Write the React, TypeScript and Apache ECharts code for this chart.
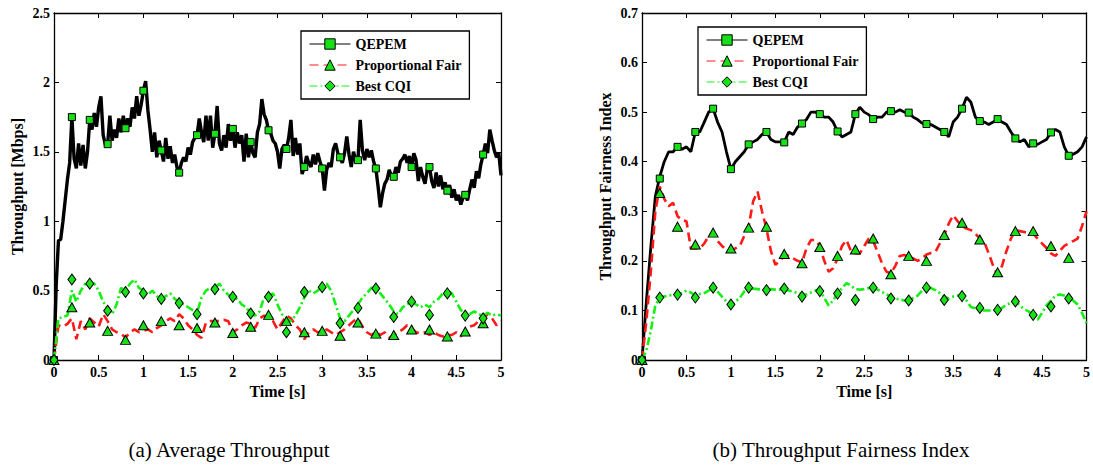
import React, { useEffect, useRef } from "react";
import * as echarts from "echarts";

// ---------- data ----------
const markTimes = [0, 0.2, 0.4, 0.6, 0.8, 1, 1.2, 1.4, 1.6, 1.8, 2, 2.2, 2.4, 2.6, 2.8, 3, 3.2, 3.4, 3.6, 3.8, 4, 4.2, 4.4, 4.6, 4.8];
const legendNames = ["QEPEM", "Proportional Fair", "Best CQI"];

// (a) Average Throughput [Mbps]; QEPEM sampled every 0.025 s, others every 0.05 s
const thrQepem = [
  0, 0.55, 0.86, 0.87, 1.0, 1.15, 1.3, 1.42,
  1.75, 1.45, 1.38, 1.56, 1.4, 1.55, 1.38, 1.5,
  1.73, 1.66, 1.78, 1.68, 1.82, 1.9, 1.62, 1.55,
  1.555, 1.76, 1.58, 1.66, 1.6, 1.74, 1.64, 1.76,
  1.67, 1.74, 1.68, 1.82, 1.74, 1.9, 1.76, 1.84,
  1.94, 2.01, 1.8, 1.66, 1.5, 1.64, 1.46, 1.58,
  1.51, 1.43, 1.6, 1.45, 1.54, 1.42, 1.48, 1.39,
  1.35, 1.42, 1.46, 1.43, 1.53, 1.48, 1.57, 1.6,
  1.62, 1.74, 1.64, 1.57, 1.76, 1.58, 1.76, 1.53,
  1.63, 1.83, 1.56, 1.51, 1.62, 1.53, 1.7, 1.58,
  1.665, 1.53, 1.64, 1.56, 1.62, 1.43, 1.63, 1.46,
  1.57, 1.49, 1.46, 1.64, 1.7, 1.88, 1.77, 1.73,
  1.655, 1.63, 1.58, 1.56, 1.5, 1.38, 1.52, 1.55,
  1.52, 1.6, 1.73, 1.47, 1.6, 1.48, 1.56, 1.34,
  1.39, 1.47, 1.42, 1.39, 1.48, 1.41, 1.49, 1.43,
  1.38, 1.22, 1.37, 1.42, 1.39, 1.52, 1.56, 1.49,
  1.46, 1.42, 1.49, 1.61, 1.48, 1.39, 1.5, 1.44,
  1.44, 1.73, 1.51, 1.44, 1.52, 1.46, 1.51, 1.43,
  1.38, 1.25, 1.1, 1.2, 1.27, 1.3, 1.37, 1.32,
  1.32, 1.39, 1.35, 1.43, 1.45, 1.48, 1.42, 1.47,
  1.39, 1.49, 1.44, 1.29, 1.39, 1.32, 1.27, 1.37,
  1.39, 1.29, 1.24, 1.35, 1.25, 1.33, 1.23, 1.28,
  1.22, 1.26, 1.17, 1.23, 1.15, 1.19, 1.12, 1.17,
  1.19, 1.15, 1.23, 1.3, 1.24, 1.36, 1.31, 1.41,
  1.48, 1.56, 1.49, 1.66, 1.58, 1.51, 1.46, 1.49,
  1.33,
];
const thrPf = [
  0, 0.25, 0.24, 0.26,
  0.3, 0.15, 0.28, 0.22,
  0.3, 0.27, 0.24, 0.33,
  0.28, 0.22, 0.2, 0.19,
  0.16, 0.2, 0.22, 0.2,
  0.21, 0.22, 0.2, 0.23,
  0.25, 0.28, 0.3, 0.28,
  0.33, 0.3, 0.25, 0.22,
  0.18, 0.16, 0.27, 0.28,
  0.28, 0.28, 0.29, 0.28,
  0.2, 0.22, 0.25, 0.27,
  0.26, 0.23, 0.3, 0.32,
  0.3, 0.28, 0.22, 0.27,
  0.32, 0.3, 0.25, 0.22,
  0.15, 0.2, 0.22, 0.2,
  0.2, 0.22, 0.2, 0.18,
  0.2, 0.22, 0.25, 0.28,
  0.3, 0.24, 0.2, 0.18,
  0.2, 0.18, 0.2, 0.16,
  0.18, 0.2, 0.22, 0.25,
  0.23, 0.2, 0.19, 0.2,
  0.18, 0.2, 0.18, 0.17,
  0.18, 0.18, 0.2, 0.17,
  0.2, 0.24, 0.25, 0.28,
  0.3, 0.33, 0.3, 0.25,
  0.28,
];
const thrCqi = [
  0, 0.3, 0.31, 0.32,
  0.5, 0.42, 0.5, 0.55,
  0.56, 0.55, 0.5, 0.42,
  0.37, 0.33, 0.4, 0.52,
  0.5, 0.55, 0.58, 0.52,
  0.5, 0.47, 0.5, 0.46,
  0.44, 0.46, 0.48, 0.44,
  0.42, 0.4, 0.38, 0.36,
  0.34, 0.45, 0.5, 0.52,
  0.52, 0.55, 0.5, 0.47,
  0.45, 0.44, 0.4, 0.38,
  0.33, 0.32, 0.35, 0.45,
  0.46, 0.48, 0.4, 0.33,
  0.3, 0.28, 0.32, 0.38,
  0.45, 0.5, 0.48, 0.5,
  0.53, 0.55, 0.5, 0.4,
  0.3, 0.28, 0.32, 0.36,
  0.4, 0.45, 0.48, 0.52,
  0.52, 0.48, 0.44, 0.4,
  0.35, 0.33, 0.38, 0.4,
  0.42, 0.4, 0.38, 0.4,
  0.38, 0.42, 0.44, 0.48,
  0.5, 0.48, 0.42, 0.36,
  0.34, 0.33, 0.35, 0.33,
  0.32, 0.34, 0.32, 0.33,
  0.32,
];
const thrQepemMk = [0, 1.75, 1.73, 1.555, 1.67, 1.94, 1.51, 1.35, 1.62, 1.63, 1.665, 1.57, 1.655, 1.52, 1.39, 1.38, 1.46, 1.44, 1.38, 1.32, 1.39, 1.39, 1.22, 1.19, 1.48];
const thrPfMk = [0, 0.38, 0.27, 0.21, 0.145, 0.25, 0.28, 0.25, 0.23, 0.27, 0.195, 0.24, 0.325, 0.28, 0.2, 0.21, 0.175, 0.27, 0.19, 0.18, 0.22, 0.22, 0.17, 0.205, 0.265];
const thrCqiMk = [0, 0.58, 0.55, 0.355, 0.49, 0.48, 0.44, 0.41, 0.33, 0.51, 0.455, 0.335, 0.455, 0.2, 0.49, 0.525, 0.265, 0.375, 0.515, 0.31, 0.42, 0.325, 0.48, 0.32, 0.3];

// (b) Throughput Fairness Index, sampled every 0.05 s
const fairQepem = [
  0, 0.12, 0.23, 0.33,
  0.37, 0.4, 0.42, 0.42,
  0.43, 0.425, 0.43, 0.42,
  0.46, 0.46, 0.48, 0.5,
  0.507, 0.48, 0.46, 0.42,
  0.385, 0.4, 0.41, 0.42,
  0.435, 0.44, 0.445, 0.455,
  0.46, 0.445, 0.44, 0.44,
  0.439, 0.46, 0.455, 0.47,
  0.477, 0.485, 0.5, 0.5,
  0.496, 0.49, 0.49, 0.48,
  0.461, 0.45, 0.455, 0.46,
  0.496, 0.51, 0.5, 0.495,
  0.486, 0.49, 0.49, 0.5,
  0.502, 0.5, 0.505, 0.5,
  0.499, 0.49, 0.485, 0.478,
  0.476, 0.475, 0.47, 0.465,
  0.46, 0.45, 0.48, 0.49,
  0.507, 0.53, 0.52, 0.49,
  0.482, 0.48, 0.475, 0.48,
  0.486, 0.48, 0.475, 0.46,
  0.447, 0.44, 0.445, 0.43,
  0.437, 0.435, 0.44, 0.445,
  0.459, 0.465, 0.46, 0.43,
  0.412, 0.415, 0.42, 0.43,
  0.45,
];
const fairPf = [
  0, 0.08, 0.18, 0.3,
  0.35, 0.325, 0.31, 0.317,
  0.29, 0.282, 0.28, 0.225,
  0.225, 0.225, 0.235, 0.25,
  0.257, 0.24, 0.23, 0.222,
  0.222, 0.225, 0.23, 0.25,
  0.27, 0.32, 0.34, 0.3,
  0.265, 0.22, 0.192, 0.2,
  0.21, 0.21, 0.205, 0.2,
  0.197, 0.225, 0.242, 0.242,
  0.23, 0.2, 0.178, 0.185,
  0.205, 0.23, 0.242, 0.22,
  0.215, 0.215, 0.23, 0.245,
  0.24, 0.218, 0.195, 0.178,
  0.175, 0.19, 0.21, 0.212,
  0.208, 0.205, 0.2, 0.205,
  0.213, 0.216, 0.218, 0.235,
  0.252, 0.275, 0.292, 0.28,
  0.27, 0.265, 0.262, 0.255,
  0.245, 0.238, 0.215, 0.19,
  0.171, 0.19, 0.22, 0.245,
  0.262, 0.26, 0.258, 0.256,
  0.255, 0.245, 0.235, 0.226,
  0.215, 0.21, 0.22, 0.23,
  0.235, 0.24, 0.245, 0.27,
  0.3,
];
const fairCqi = [
  0, 0.02, 0.06, 0.11,
  0.125, 0.128, 0.13, 0.132,
  0.132, 0.135, 0.14, 0.136,
  0.13, 0.133, 0.135, 0.14,
  0.145, 0.138, 0.128, 0.118,
  0.11, 0.118, 0.125, 0.138,
  0.145, 0.144, 0.143, 0.142,
  0.142, 0.143, 0.142, 0.142,
  0.142, 0.14, 0.138, 0.135,
  0.133, 0.132, 0.136, 0.14,
  0.142, 0.125, 0.11, 0.12,
  0.135, 0.145, 0.155, 0.15,
  0.143, 0.142, 0.143, 0.145,
  0.145, 0.142, 0.137, 0.133,
  0.126, 0.124, 0.122, 0.12,
  0.12, 0.125, 0.13, 0.14,
  0.147, 0.145, 0.141, 0.135,
  0.127, 0.124, 0.128, 0.13,
  0.13, 0.12, 0.107, 0.104,
  0.1, 0.1, 0.1, 0.1,
  0.1, 0.105, 0.112, 0.115,
  0.118, 0.11, 0.102, 0.098,
  0.09, 0.081, 0.095, 0.11,
  0.12, 0.13, 0.132, 0.13,
  0.128, 0.12, 0.112, 0.095,
  0.074,
];
const fairQepemMk = [0, 0.366, 0.43, 0.46, 0.507, 0.385, 0.435, 0.46, 0.439, 0.477, 0.496, 0.461, 0.496, 0.486, 0.502, 0.499, 0.476, 0.46, 0.507, 0.482, 0.486, 0.447, 0.437, 0.459, 0.412];
const fairPfMk = [0, 0.337, 0.269, 0.233, 0.257, 0.225, 0.267, 0.269, 0.214, 0.195, 0.228, 0.21, 0.223, 0.245, 0.173, 0.21, 0.2, 0.252, 0.277, 0.243, 0.177, 0.26, 0.26, 0.23, 0.206];
const fairCqiMk = [0, 0.126, 0.132, 0.126, 0.146, 0.112, 0.146, 0.141, 0.144, 0.128, 0.139, 0.134, 0.121, 0.146, 0.124, 0.12, 0.146, 0.121, 0.129, 0.105, 0.101, 0.118, 0.091, 0.108, 0.124];

const xTickMax = 5;
const xTickStep = 0.5;
const captions = ["(a) Average Throughput", "(b) Throughput Fairness Index"];
const yNames = ["Throughput [Mbps]", "Throughput Fairness Index"];
const yMax = [2.5, 0.7];
const yStep = [0.5, 0.1];

// ---------- helpers ----------
const FONT = "Liberation Serif, DejaVu Serif, serif";
const MK_GREEN = "#18e018";
const LINE_GREEN = "#14f014";
const RED = "#ff1a1a";

const pairs = (vals: number[], step: number) => vals.map((v, i) => [Math.round(i * step * 1000) / 1000, v]);
const markPairs = (vals: number[]) => vals.map((v, i) => [markTimes[i], v]);

const styles = [
  { name: legendNames[0], symbol: "rect", size: 7, line: { color: "#000", width: 3, type: "solid" } },
  { name: legendNames[1], symbol: "triangle", size: [10, 9], line: { color: RED, width: 2.6, type: [9, 5] } },
  { name: legendNames[2], symbol: "diamond", size: [8, 11], line: { color: LINE_GREEN, width: 2.6, type: [8, 3, 2, 3] } },
];

function buildSeries(g: number, lines: number[][], steps: number[], marks: number[][], widths: number[]) {
  const out: any[] = [];
  lines.forEach((vals, k) => {
    const st = styles[k];
    out.push({
      type: "line",
      name: st.name,
      xAxisIndex: g * 2,
      yAxisIndex: g * 2,
      data: pairs(vals, steps[k]),
      showSymbol: false,
      symbol: st.symbol,
      symbolSize: st.size,
      lineStyle: { ...st.line, width: widths[k] },
      itemStyle: { color: MK_GREEN, borderColor: "#000", borderWidth: 1 },
      z: 2 + k,
      silent: true,
    });
  });
  marks.forEach((vals, k) => {
    const st = styles[k];
    out.push({
      type: "scatter",
      name: st.name + " markers",
      xAxisIndex: g * 2,
      yAxisIndex: g * 2,
      data: markPairs(vals),
      symbol: st.symbol,
      symbolSize: st.size,
      itemStyle: { color: MK_GREEN, borderColor: "#000", borderWidth: 1, opacity: 1 },
      z: 10,
      silent: true,
    });
  });
  return out;
}

const tickLabel = { color: "#000", fontFamily: FONT, fontWeight: "bold" as const, fontSize: 14 };
const axisLine = { onZero: false, lineStyle: { color: "#000", width: 1.3 } };
const axisTick = { inside: true, length: 5, lineStyle: { color: "#000", width: 1 } };

function xAxes(g: number) {
  const base = { gridIndex: g, type: "value", min: 0, max: xTickMax, interval: xTickStep, splitLine: { show: false }, axisLine, axisTick };
  return [
    {
      ...base,
      position: "bottom",
      axisLabel: { ...tickLabel, margin: 5 },
      name: "Time [s]",
      nameLocation: "middle",
      nameGap: 21,
      nameTextStyle: { color: "#000", fontFamily: FONT, fontWeight: "bold", fontSize: 16 },
    },
    { ...base, position: "top", axisLabel: { show: false } },
  ];
}
function yAxes(g: number) {
  const base = { gridIndex: g, type: "value", min: 0, max: yMax[g], interval: yStep[g], splitLine: { show: false }, axisLine, axisTick };
  return [
    {
      ...base,
      position: "left",
      axisLabel: { ...tickLabel, margin: 4 },
      name: yNames[g],
      nameLocation: "middle",
      nameGap: 29,
      nameTextStyle: { color: "#000", fontFamily: FONT, fontWeight: "bold", fontSize: 16 },
    },
    { ...base, position: "right", axisLabel: { show: false } },
  ];
}

function legend(left: number, top: number) {
  return {
    orient: "vertical",
    left,
    top,
    data: legendNames,
    padding: [6, 8, 6, 8],
    itemGap: 7,
    itemWidth: 41,
    itemHeight: 13,
    backgroundColor: "#fff",
    borderColor: "#000",
    borderWidth: 1.3,
    borderRadius: 0,
    selectedMode: false,
    lineStyle: { width: 1 },
    itemStyle: { borderColor: "#000", borderWidth: 1 },
    textStyle: { color: "#000", fontFamily: FONT, fontWeight: "bold", fontSize: 14 },
    z: 20,
  };
}

export default function App() {
  const ref = useRef<HTMLDivElement>(null);
  useEffect(() => {
    document.body.style.margin = "0";
    if (!ref.current) return;
    const chart = echarts.init(ref.current, undefined, { renderer: "svg" });
    const option: any = {
      animation: false,
      backgroundColor: "#fff",
      textStyle: { fontFamily: FONT },
      grid: [
        { left: 54, top: 13, width: 447, height: 347 },
        { left: 642, top: 13, width: 447, height: 347 },
      ],
      xAxis: [...xAxes(0), ...xAxes(1)],
      yAxis: [...yAxes(0), ...yAxes(1)],
      legend: [legend(301, 31), legend(698, 27)],
      series: [
        ...buildSeries(0, [thrQepem, thrPf, thrCqi], [0.025, 0.05, 0.05], [thrQepemMk, thrPfMk, thrCqiMk], [3.4, 2.6, 2.6]),
        ...buildSeries(1, [fairQepem, fairPf, fairCqi], [0.05, 0.05, 0.05], [fairQepemMk, fairPfMk, fairCqiMk], [2.8, 2.6, 2.6]),
      ],
      graphic: [
        { type: "text", x: 229, y: 450, style: { text: captions[0], fill: "#000", fontFamily: FONT, fontSize: 21, align: "center", verticalAlign: "middle" } },
        { type: "text", x: 841, y: 450, style: { text: captions[1], fill: "#000", fontFamily: FONT, fontSize: 21, align: "center", verticalAlign: "middle" } },
      ],
    };
    chart.setOption(option);
    return () => chart.dispose();
  }, []);
  return <div ref={ref} style={{ width: 1093, height: 468 }} />;
}
